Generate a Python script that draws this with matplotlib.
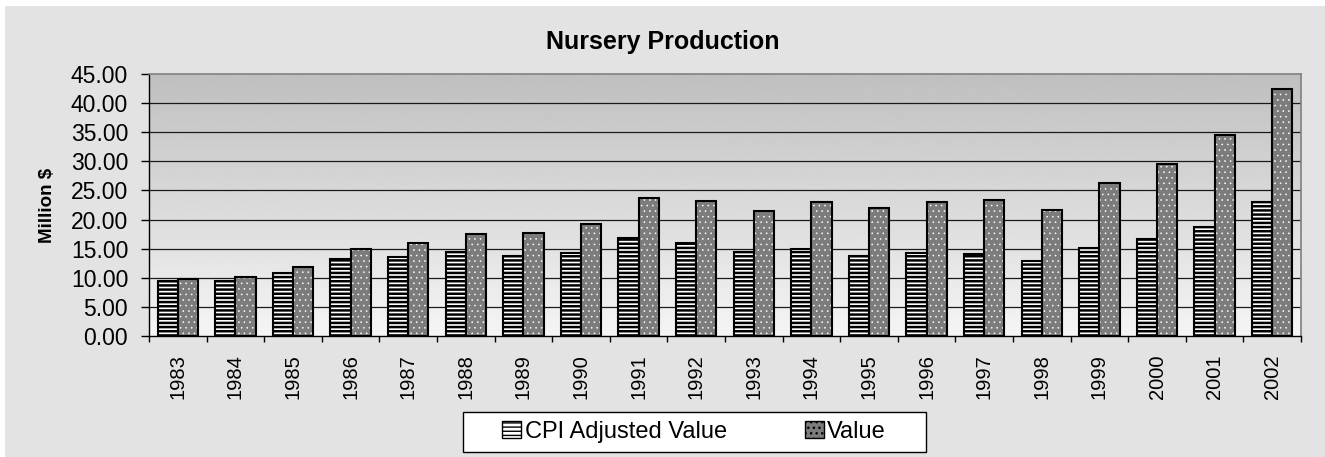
import numpy as np
import matplotlib
matplotlib.use('Agg')
import matplotlib.pyplot as plt
from matplotlib.patches import Patch, Rectangle

# Data (million $)
years = ['1983', '1984', '1985', '1986', '1987', '1988', '1989', '1990', '1991', '1992',
         '1993', '1994', '1995', '1996', '1997', '1998', '1999', '2000', '2001', '2002']
cpi_adjusted = [9.45, 9.45, 10.8, 13.2, 13.6, 14.4, 13.75, 14.2, 16.8, 16.0,
                14.5, 15.0, 13.8, 14.2, 14.0, 12.8, 15.2, 16.6, 18.7, 22.95]
value = [9.75, 10.2, 11.9, 14.95, 15.9, 17.5, 17.65, 19.2, 23.65, 23.2,
         21.5, 22.95, 21.9, 22.95, 23.3, 21.7, 26.2, 29.5, 34.6, 42.4]
y_ticks = [0, 5, 10, 15, 20, 25, 30, 35, 40, 45]

plt.rcParams['font.family'] = ['Liberation Sans', 'DejaVu Sans']


def set_hlw(artists, lw):
    # per-artist hatch line width where the matplotlib version supports it
    for a in artists:
        if hasattr(a, 'set_hatch_linewidth'):
            a.set_hatch_linewidth(lw)


fig = plt.figure(figsize=(13.25, 4.57), dpi=100)
fig.patch.set_facecolor('#e3e3e3')
# white frame strips at top and left of the picture
fig.patches.append(Rectangle((0, 1 - 6 / 457), 1, 6 / 457, transform=fig.transFigure,
                             facecolor='white', edgecolor='none', zorder=0))
fig.patches.append(Rectangle((0, 0), 5 / 1325, 1, transform=fig.transFigure,
                             facecolor='white', edgecolor='none', zorder=0))

ax = fig.add_axes([149 / 1325, 121 / 457, 1152 / 1325, 262 / 457])

x = np.arange(len(years))
w = 0.35

# gradient plot area background
grad = np.linspace(0.96, 0.75, 256).reshape(-1, 1)
ax.imshow(grad, cmap='gray', vmin=0, vmax=1, aspect='auto',
          extent=[-0.5, len(years) - 0.5, 0, 45], origin='lower', zorder=0)

# horizontal gridlines
for t in y_ticks[1:-1]:
    ax.axhline(t, color='#1a1a1a', linewidth=0.9, zorder=1)

# CPI adjusted bars: black horizontal stripes on white
with plt.rc_context({'hatch.linewidth': 1.8}):
    b1 = ax.bar(x - w / 2, cpi_adjusted, width=w, facecolor='white', edgecolor='black',
                hatch='----', linewidth=1.5, zorder=2)
set_hlw(b1, 1.8)
# Value bars: gray with small white dots, then black outline
with plt.rc_context({'hatch.linewidth': 0.4}):
    b2 = ax.bar(x + w / 2, value, width=w, facecolor='#7c7c7c', edgecolor='white',
                hatch='...', linewidth=0, zorder=2)
set_hlw(b2, 0.4)
ax.bar(x + w / 2, value, width=w, fill=False, edgecolor='black', linewidth=1.5, zorder=3)

ax.set_xlim(-0.5, len(years) - 0.5)
ax.set_ylim(0, 45)
ax.set_yticks(y_ticks)
ax.set_yticklabels([f'{t:.2f}' for t in y_ticks], fontsize=16.5)
ax.tick_params(axis='y', direction='out', length=6, width=1, pad=9)

ax.set_xticks(x)
ax.set_xticklabels(years, rotation=90, fontsize=14.5)
ax.set_xticks(np.arange(-0.5, len(years)), minor=True)
ax.tick_params(axis='x', which='major', length=0, pad=13)
ax.tick_params(axis='x', which='minor', direction='out', length=4, width=1)

for side in ['top', 'right']:
    ax.spines[side].set_color('#808080')
    ax.spines[side].set_linewidth(1.2)
for side in ['left', 'bottom']:
    ax.spines[side].set_color('black')
    ax.spines[side].set_linewidth(1.0)

fig.suptitle('Nursery Production', fontsize=18, fontweight='bold', x=0.5, y=1 - 42 / 457, va='center')
fig.text(48 / 1325, 1 - 205 / 457, 'Million $', rotation=90, fontsize=13.5,
         fontweight='bold', ha='center', va='center')

# legend with a hand-drawn square frame
fig.patches.append(Rectangle((463 / 1325, 1 - 452 / 457), 463 / 1325, 40 / 457,
                             transform=fig.transFigure, facecolor='white',
                             edgecolor='black', linewidth=1.0, zorder=1))
handles = [Patch(facecolor='white', edgecolor='black', hatch='----', label='CPI Adjusted Value'),
           Patch(facecolor='#7c7c7c', edgecolor='black', hatch='...', label='Value')]
with plt.rc_context({'hatch.linewidth': 1.0}):
    fig.legend(handles=handles, loc='center', bbox_to_anchor=(694 / 1325, 1 - 432 / 457),
               ncol=2, frameon=False, fontsize=17, handlelength=0.8, handleheight=0.7,
               handletextpad=0.15, columnspacing=3.3)

fig.savefig('out.png', dpi=100, facecolor=fig.get_facecolor())
